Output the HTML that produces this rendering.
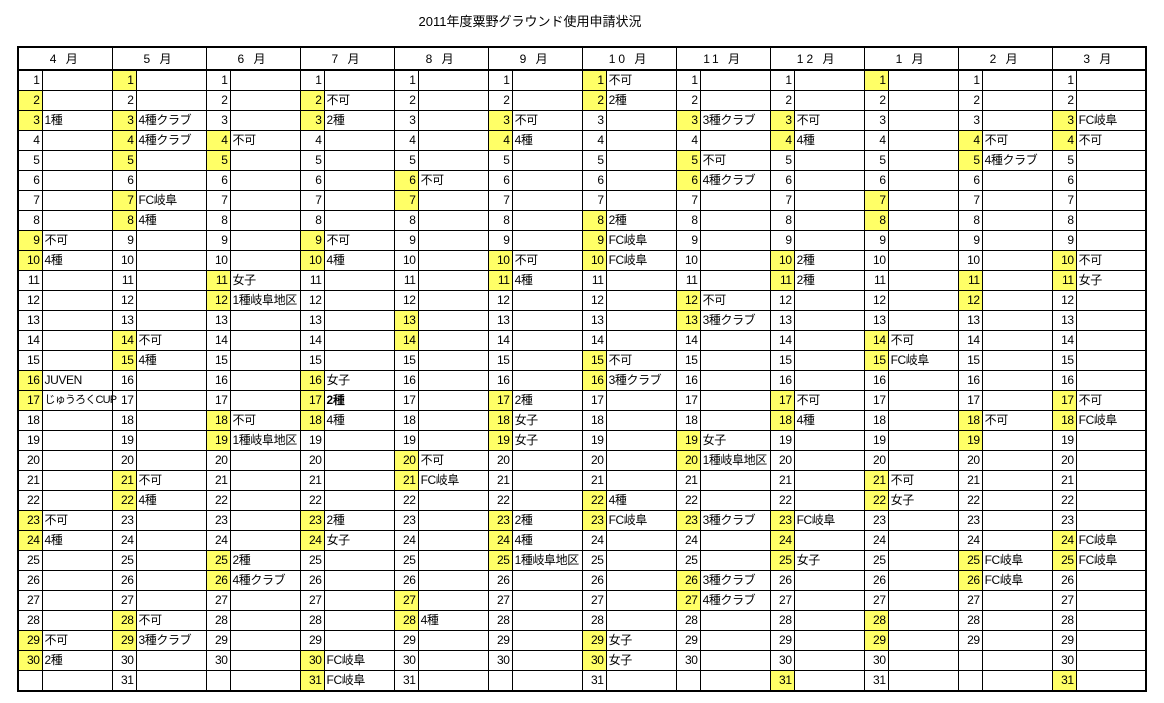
<!DOCTYPE html>
<html><head><meta charset="utf-8"><style>
body{margin:0;background:#fff;width:1164px;height:703px;overflow:hidden;font-family:"Liberation Sans","Noto Sans CJK JP",sans-serif;}
.title{position:absolute;left:0;width:1060px;top:11px;text-align:center;font-size:13px;}
table{position:absolute;left:17px;top:46px;border-collapse:collapse;table-layout:fixed;width:1130px;border:2px solid #000;font-size:12px;}
td{border:1px solid #000;padding:0 2px;height:19px;line-height:19px;white-space:nowrap;overflow:hidden;letter-spacing:-0.4px;}
td:nth-child(odd){text-align:right;}
td.w{overflow:visible;font-size:11px;letter-spacing:-0.8px;}
th{border:1px solid #000;border-bottom:2px solid #000;font-weight:normal;height:19px;font-size:12px;letter-spacing:3px;}
.y{background:#ffff66;}
col.d{width:24px}col.t{width:70px}
b{font-weight:bold}
</style></head><body>
<div class="title">2011年度粟野グラウンド使用申請状況</div>
<table>
<colgroup><col class=d><col class=t><col class=d><col class=t><col class=d><col class=t><col class=d><col class=t><col class=d><col class=t><col class=d><col class=t><col class=d><col class=t><col class=d><col class=t><col class=d><col class=t><col class=d><col class=t><col class=d><col class=t><col class=d><col class=t></colgroup>
<tr><th colspan=2>4 月<th colspan=2>5 月<th colspan=2>6 月<th colspan=2>7 月<th colspan=2>8 月<th colspan=2>9 月<th colspan=2>10 月<th colspan=2>11 月<th colspan=2>12 月<th colspan=2>1 月<th colspan=2>2 月<th colspan=2>3 月</tr>
<tr><td>1<td><td class=y>1<td><td>1<td><td>1<td><td>1<td><td>1<td><td class=y>1<td>不可<td>1<td><td>1<td><td class=y>1<td><td>1<td><td>1<td></tr>
<tr><td class=y>2<td><td>2<td><td>2<td><td class=y>2<td>不可<td>2<td><td>2<td><td class=y>2<td>2種<td>2<td><td>2<td><td>2<td><td>2<td><td>2<td></tr>
<tr><td class=y>3<td>1種<td class=y>3<td>4種クラブ<td>3<td><td class=y>3<td>2種<td>3<td><td class=y>3<td>不可<td>3<td><td class=y>3<td>3種クラブ<td class=y>3<td>不可<td>3<td><td>3<td><td class=y>3<td>FC岐阜</tr>
<tr><td>4<td><td class=y>4<td>4種クラブ<td class=y>4<td>不可<td>4<td><td>4<td><td class=y>4<td>4種<td>4<td><td>4<td><td class=y>4<td>4種<td>4<td><td class=y>4<td>不可<td class=y>4<td>不可</tr>
<tr><td>5<td><td class=y>5<td><td class=y>5<td><td>5<td><td>5<td><td>5<td><td>5<td><td class=y>5<td>不可<td>5<td><td>5<td><td class=y>5<td>4種クラブ<td>5<td></tr>
<tr><td>6<td><td>6<td><td>6<td><td>6<td><td class=y>6<td>不可<td>6<td><td>6<td><td class=y>6<td>4種クラブ<td>6<td><td>6<td><td>6<td><td>6<td></tr>
<tr><td>7<td><td class=y>7<td>FC岐阜<td>7<td><td>7<td><td class=y>7<td><td>7<td><td>7<td><td>7<td><td>7<td><td class=y>7<td><td>7<td><td>7<td></tr>
<tr><td>8<td><td class=y>8<td>4種<td>8<td><td>8<td><td>8<td><td>8<td><td class=y>8<td>2種<td>8<td><td>8<td><td class=y>8<td><td>8<td><td>8<td></tr>
<tr><td class=y>9<td>不可<td>9<td><td>9<td><td class=y>9<td>不可<td>9<td><td>9<td><td class=y>9<td>FC岐阜<td>9<td><td>9<td><td>9<td><td>9<td><td>9<td></tr>
<tr><td class=y>10<td>4種<td>10<td><td>10<td><td class=y>10<td>4種<td>10<td><td class=y>10<td>不可<td class=y>10<td>FC岐阜<td>10<td><td class=y>10<td>2種<td>10<td><td>10<td><td class=y>10<td>不可</tr>
<tr><td>11<td><td>11<td><td class=y>11<td>女子<td>11<td><td>11<td><td class=y>11<td>4種<td>11<td><td>11<td><td class=y>11<td>2種<td>11<td><td class=y>11<td><td class=y>11<td>女子</tr>
<tr><td>12<td><td>12<td><td class=y>12<td>1種岐阜地区<td>12<td><td>12<td><td>12<td><td>12<td><td class=y>12<td>不可<td>12<td><td>12<td><td class=y>12<td><td>12<td></tr>
<tr><td>13<td><td>13<td><td>13<td><td>13<td><td class=y>13<td><td>13<td><td>13<td><td class=y>13<td>3種クラブ<td>13<td><td>13<td><td>13<td><td>13<td></tr>
<tr><td>14<td><td class=y>14<td>不可<td>14<td><td>14<td><td class=y>14<td><td>14<td><td>14<td><td>14<td><td>14<td><td class=y>14<td>不可<td>14<td><td>14<td></tr>
<tr><td>15<td><td class=y>15<td>4種<td>15<td><td>15<td><td>15<td><td>15<td><td class=y>15<td>不可<td>15<td><td>15<td><td class=y>15<td>FC岐阜<td>15<td><td>15<td></tr>
<tr><td class=y>16<td>JUVEN<td>16<td><td>16<td><td class=y>16<td>女子<td>16<td><td>16<td><td class=y>16<td>3種クラブ<td>16<td><td>16<td><td>16<td><td>16<td><td>16<td></tr>
<tr><td class=y>17<td class=w>じゅうろくCUP<td>17<td><td>17<td><td class=y>17<td><b>2種</b><td>17<td><td class=y>17<td>2種<td>17<td><td>17<td><td class=y>17<td>不可<td>17<td><td>17<td><td class=y>17<td>不可</tr>
<tr><td>18<td><td>18<td><td class=y>18<td>不可<td class=y>18<td>4種<td>18<td><td class=y>18<td>女子<td>18<td><td>18<td><td class=y>18<td>4種<td>18<td><td class=y>18<td>不可<td class=y>18<td>FC岐阜</tr>
<tr><td>19<td><td>19<td><td class=y>19<td>1種岐阜地区<td>19<td><td>19<td><td class=y>19<td>女子<td>19<td><td class=y>19<td>女子<td>19<td><td>19<td><td class=y>19<td><td>19<td></tr>
<tr><td>20<td><td>20<td><td>20<td><td>20<td><td class=y>20<td>不可<td>20<td><td>20<td><td class=y>20<td>1種岐阜地区<td>20<td><td>20<td><td>20<td><td>20<td></tr>
<tr><td>21<td><td class=y>21<td>不可<td>21<td><td>21<td><td class=y>21<td>FC岐阜<td>21<td><td>21<td><td>21<td><td>21<td><td class=y>21<td>不可<td>21<td><td>21<td></tr>
<tr><td>22<td><td class=y>22<td>4種<td>22<td><td>22<td><td>22<td><td>22<td><td class=y>22<td>4種<td>22<td><td>22<td><td class=y>22<td>女子<td>22<td><td>22<td></tr>
<tr><td class=y>23<td>不可<td>23<td><td>23<td><td class=y>23<td>2種<td>23<td><td class=y>23<td>2種<td class=y>23<td>FC岐阜<td class=y>23<td>3種クラブ<td class=y>23<td>FC岐阜<td>23<td><td>23<td><td>23<td></tr>
<tr><td class=y>24<td>4種<td>24<td><td>24<td><td class=y>24<td>女子<td>24<td><td class=y>24<td>4種<td>24<td><td>24<td><td class=y>24<td><td>24<td><td>24<td><td class=y>24<td>FC岐阜</tr>
<tr><td>25<td><td>25<td><td class=y>25<td>2種<td>25<td><td>25<td><td class=y>25<td>1種岐阜地区<td>25<td><td>25<td><td class=y>25<td>女子<td>25<td><td class=y>25<td>FC岐阜<td class=y>25<td>FC岐阜</tr>
<tr><td>26<td><td>26<td><td class=y>26<td>4種クラブ<td>26<td><td>26<td><td>26<td><td>26<td><td class=y>26<td>3種クラブ<td>26<td><td>26<td><td class=y>26<td>FC岐阜<td>26<td></tr>
<tr><td>27<td><td>27<td><td>27<td><td>27<td><td class=y>27<td><td>27<td><td>27<td><td class=y>27<td>4種クラブ<td>27<td><td>27<td><td>27<td><td>27<td></tr>
<tr><td>28<td><td class=y>28<td>不可<td>28<td><td>28<td><td class=y>28<td>4種<td>28<td><td>28<td><td>28<td><td>28<td><td class=y>28<td><td>28<td><td>28<td></tr>
<tr><td class=y>29<td>不可<td class=y>29<td>3種クラブ<td>29<td><td>29<td><td>29<td><td>29<td><td class=y>29<td>女子<td>29<td><td>29<td><td class=y>29<td><td>29<td><td>29<td></tr>
<tr><td class=y>30<td>2種<td>30<td><td>30<td><td class=y>30<td>FC岐阜<td>30<td><td>30<td><td class=y>30<td>女子<td>30<td><td>30<td><td>30<td><td><td><td>30<td></tr>
<tr><td><td><td>31<td><td><td><td class=y>31<td>FC岐阜<td>31<td><td><td><td>31<td><td><td><td class=y>31<td><td>31<td><td><td><td class=y>31<td></tr>
</table>
</body></html>
